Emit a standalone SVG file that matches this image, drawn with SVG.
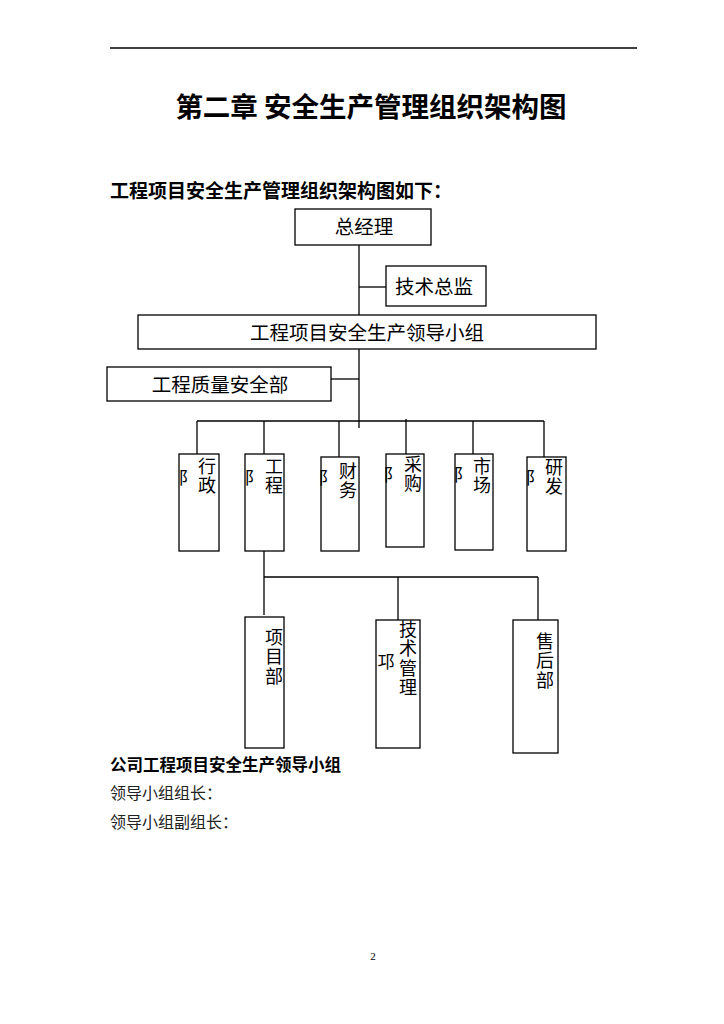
<svg xmlns="http://www.w3.org/2000/svg" width="724" height="1024" viewBox="0 0 724 1024">
<style>
.box{fill:#fff;stroke:#000;stroke-width:1.3}
.ln{stroke:#000;stroke-width:1.3;fill:none}
.t{font-family:"Noto Sans CJK SC","Noto Sans",sans-serif;font-size:19.5px;fill:#000}
.c{text-anchor:middle}
.v{font-family:"Noto Sans CJK SC","Noto Sans",sans-serif;font-size:18px;fill:#000;writing-mode:vertical-rl;letter-spacing:1.5px}
.r{font-family:"Noto Sans CJK SC","Noto Sans",sans-serif;font-size:17px;fill:#000;text-anchor:middle}
.b{font-family:"Noto Sans CJK SC","Liberation Sans",sans-serif;font-weight:bold;fill:#000}
.s{font-family:"Liberation Serif","Noto Sans CJK SC",serif;font-size:16px;fill:#222}
</style>
<rect width="724" height="1024" fill="#fff"/>
<line x1="110" y1="48" x2="637" y2="48" stroke="#000" stroke-width="1.3"/>
<text class="b" x="371" y="117" font-size="27.5" text-anchor="middle">第二章 安全生产管理组织架构图</text>
<text class="b" x="110" y="198" font-size="19">工程项目安全生产管理组织架构图如下：</text>

<g id="connectors">
<line class="ln" x1="359" y1="245" x2="359" y2="428"/>
<line class="ln" x1="359" y1="287" x2="386" y2="287"/>
<line class="ln" x1="331" y1="379" x2="359" y2="379"/>
<line class="ln" x1="197" y1="421" x2="544" y2="421"/>
<line class="ln" x1="197" y1="421" x2="197" y2="454"/>
<line class="ln" x1="264" y1="421" x2="264" y2="454"/>
<line class="ln" x1="339" y1="421" x2="339" y2="457"/>
<line class="ln" x1="406" y1="419" x2="406" y2="462"/>
<line class="ln" x1="473" y1="421" x2="473" y2="460"/>
<line class="ln" x1="544" y1="421" x2="544" y2="457"/>
<line class="ln" x1="264" y1="542" x2="264" y2="615"/>
<line class="ln" x1="264" y1="577" x2="538" y2="577"/>
<line class="ln" x1="398" y1="577" x2="398" y2="625"/>
<line class="ln" x1="538" y1="577" x2="538" y2="623"/>
</g>

<g id="gm"><rect class="box" x="295" y="209" width="136" height="36"/><text class="t c" x="364" y="234">总经理</text></g>
<g id="tech-director"><rect class="box" x="386" y="266" width="100" height="40"/><text class="t c" x="434" y="294">技术总监</text></g>
<g id="leader-group"><rect class="box" x="138" y="315" width="458" height="34"/><text class="t c" x="367" y="340">工程项目安全生产领导小组</text></g>
<g id="quality-dept"><rect class="box" x="107" y="367" width="224" height="34"/><text class="t c" x="220" y="392">工程质量安全部</text></g>

<g id="admin"><rect class="box" x="179" y="454" width="40" height="97"/><text class="r" x="187" y="484">阝</text><text class="v" x="207" y="457">行政</text></g>
<g id="engineering"><rect class="box" x="245" y="454" width="39" height="97"/><text class="r" x="253" y="484">阝</text><text class="v" x="274" y="457">工程</text></g>
<g id="finance"><rect class="box" x="321" y="457" width="38" height="94"/><text class="r" x="327" y="484">阝</text><text class="v" x="348" y="462">财务</text></g>
<g id="purchase"><rect class="box" x="386" y="454" width="38" height="93"/><text class="r" x="392" y="481">阝</text><text class="v" x="413" y="455">采购</text></g>
<g id="market"><rect class="box" x="455" y="454" width="38" height="96"/><text class="r" x="462" y="481">阝</text><text class="v" x="482" y="457">市场</text></g>
<g id="rnd"><rect class="box" x="527" y="457" width="39" height="94"/><text class="r" x="534" y="484">阝</text><text class="v" x="554" y="458">研发</text></g>

<g id="project-dept"><rect class="box" x="245" y="617" width="39" height="131"/><text class="v" x="274" y="628">项目部</text></g>
<g id="tech-mgmt"><rect class="box" x="376" y="620" width="44" height="128"/><text class="r" x="386" y="668">邛</text><text class="v" x="408" y="620">技术管理</text></g>
<g id="after-sales"><rect class="box" x="513" y="620" width="45" height="133"/><text class="v" x="545" y="632">售后部</text></g>

<text class="b" x="110" y="771" font-size="16.5">公司工程项目安全生产领导小组</text>
<text class="s" x="110" y="799">领导小组组长：</text>
<text class="s" x="110" y="828">领导小组副组长：</text>
<text x="373" y="960" font-family="Liberation Serif,serif" font-size="11" text-anchor="middle" fill="#000">2</text>
</svg>
